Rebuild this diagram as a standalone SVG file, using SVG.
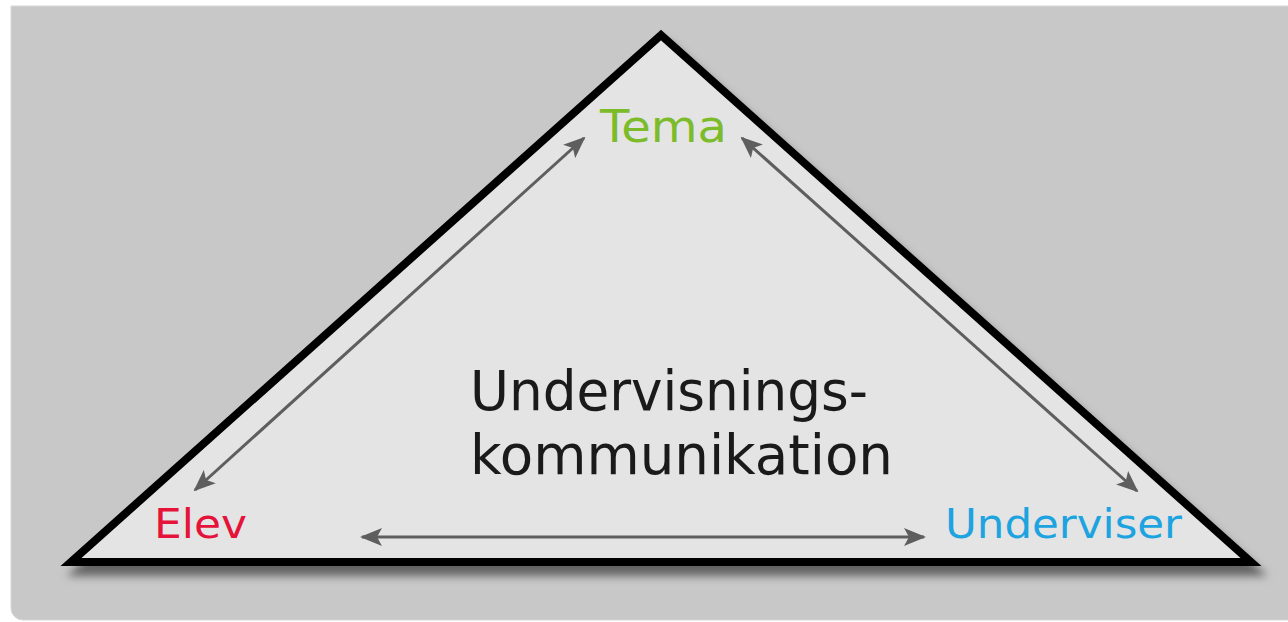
<svg xmlns="http://www.w3.org/2000/svg" width="1288" height="622" viewBox="0 0 1288 622">
<style>
.lbl{font-family:"DejaVu Sans","Liberation Sans",sans-serif;font-weight:normal}
.conn{stroke:#5e5e5e;stroke-width:3;fill:none;marker-start:url(#ah);marker-end:url(#ah)}
</style>
<defs>
<marker id="ah" viewBox="0 0 22 18" refX="20" refY="9" markerWidth="22" markerHeight="18" markerUnits="userSpaceOnUse" orient="auto-start-reverse">
<path d="M0,0 L22,9 L0,18 L5,9 Z" fill="#5e5e5e"/>
</marker>
<filter id="sh" x="-10%" y="-10%" width="120%" height="130%">
<feDropShadow dx="6" dy="10" stdDeviation="4" flood-color="#000" flood-opacity="0.5"/>
</filter>
</defs>
<path id="background" d="M11,6 H1300 V620 H23 A12,12 0 0 1 11,608 Z" fill="#c8c8c8" stroke="#d6d6d6" stroke-width="1"/>
<g id="triangle">
<polygon points="71,562 661,35 1251,562" fill="#e4e4e4" stroke="#000" stroke-width="8" stroke-linejoin="miter" filter="url(#sh)"/>
</g>
<g id="connectors">
<line class="conn" x1="584" y1="138" x2="195" y2="490"/>
<line class="conn" x1="742" y1="138" x2="1137" y2="491"/>
<line class="conn" x1="362" y1="537" x2="924" y2="537"/>
</g>
<g id="tema"><text class="lbl" x="600" y="142" font-size="44" fill="#7cbb2a" textLength="127" lengthAdjust="spacingAndGlyphs">Tema</text></g>
<g id="elev"><text class="lbl" x="154" y="538" font-size="41" fill="#e5133a" textLength="93" lengthAdjust="spacingAndGlyphs">Elev</text></g>
<g id="underviser"><text class="lbl" x="945" y="538" font-size="41" fill="#1ca3e0" textLength="237" lengthAdjust="spacingAndGlyphs">Underviser</text></g>
<g id="center">
<text class="lbl" font-size="55" fill="#1a1a1a"><tspan x="470" y="410" textLength="398" lengthAdjust="spacingAndGlyphs">Undervisnings-</tspan><tspan x="470" y="474" textLength="423" lengthAdjust="spacingAndGlyphs">kommunikation</tspan></text>
</g>
</svg>
